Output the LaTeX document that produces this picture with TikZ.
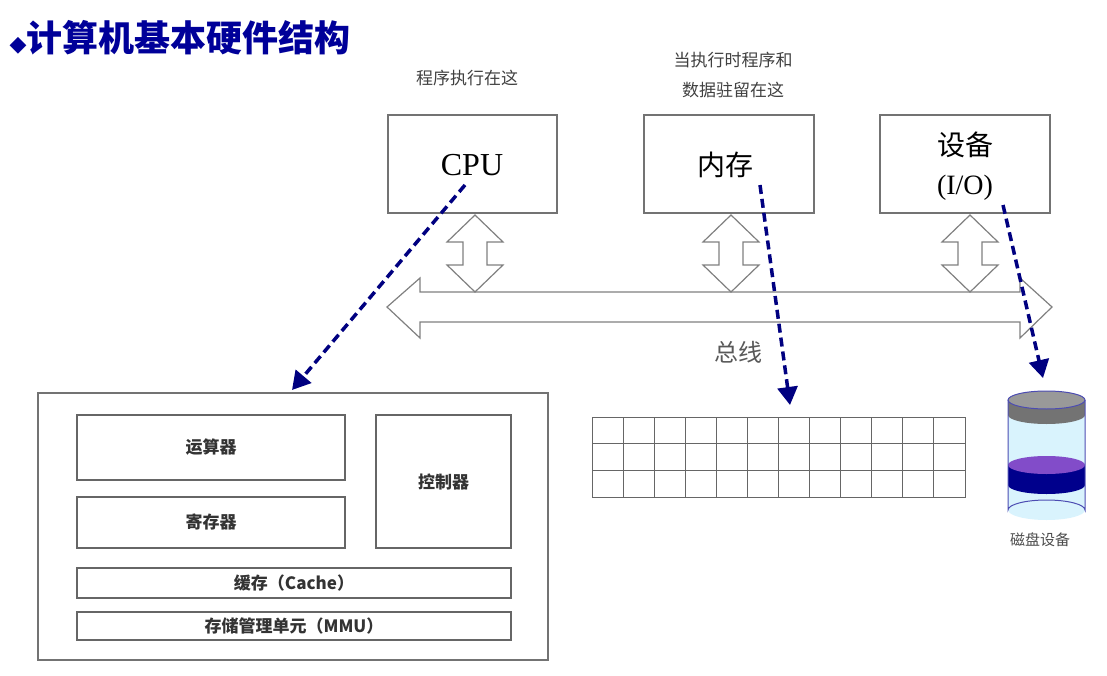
\documentclass[tikz,border=0pt]{standalone}
\usepackage{fontspec}
\usetikzlibrary{arrows.meta}
\setmainfont{Liberation Serif}
\newfontfamily\cjk{Noto Sans CJK SC}
\newfontfamily\dvsans{DejaVu Sans}
\begin{document}
\begin{tikzpicture}[x=1pt,y=-1pt,
  box/.style={draw=black!55,line width=1.3pt},
  ibox/.style={draw=black!60,line width=1.5pt},
  dar/.style={draw=blue!50!black,line width=3.5pt,dash pattern=on 9pt off 5pt,-{Triangle[length=18pt,width=20pt]}},
  hol/.style={draw=black!50,line width=1.2pt,fill=white,line join=miter}]
\useasboundingbox (0,0) rectangle (1107,676);
\node[anchor=west,text=blue!60!black,font=\cjk\bfseries\fontsize{36}{38}\selectfont] (title) at (6,38) {{\dvsans\fontsize{22}{22}\selectfont ◆}计算机基本硬件结构};
\node[font=\cjk\fontsize{17}{20}\selectfont,text=black!75] (l1) at (467,78) {程序执行在这};
\node[font=\cjk\fontsize{17}{30}\selectfont,text=black!75,align=center] (l2) at (733,75) {当执行时程序和\\数据驻留在这};
\draw[box] (388,115) rectangle (557,213);
\node[font=\fontsize{32}{34}\selectfont] (cpu) at (472,165) {CPU};
\draw[box] (644,115) rectangle (814,213);
\node[font=\cjk\fontsize{28}{30}\selectfont] (mem) at (725,165) {内存};
\draw[box] (880,115) rectangle (1050,213);
\node[font=\cjk\fontsize{28}{30}\selectfont] (dev) at (965,145) {设备};
\node[font=\fontsize{28}{30}\selectfont] (io) at (965,188) {(I/O)};
% bus
\draw[hol] (387,307) -- (420,278) -- (420,292) -- (1020,292) -- (1020,278) -- (1052,307) -- (1020,338) -- (1020,322) -- (420,322) -- (420,338) -- cycle;
\foreach \c in {475,731,970}{
\draw[hol] (\c,215) -- (\c+28,242) -- (\c+12,242) -- (\c+12,265) -- (\c+28,265) -- (\c,292) -- (\c-28,265) -- (\c-12,265) -- (\c-12,242) -- (\c-28,242) -- cycle;}
\node[font=\cjk\fontsize{24}{26}\selectfont,text=black!65] (bus) at (738,352) {总线};
% cpu detail
\draw[box] (38,393) rectangle (548,660);
\foreach \a/\b/\cc/\d/\t in {77/415/345/480/运算器,77/497/345/548/寄存器,376/415/511/548/控制器}{
\draw[ibox] (\a,\b) rectangle (\cc,\d);
\node[font=\cjk\bfseries\fontsize{17}{20}\selectfont,text=black!80] at ({(\a+\cc)/2},{(\b+\d)/2}) {\t};}
\draw[ibox] (77,568) rectangle (511,598);
\node[font=\cjk\bfseries\fontsize{17}{20}\selectfont,text=black!80] (cache) at (294,583) {缓存（Cache）};
\draw[ibox] (77,612) rectangle (511,640);
\node[font=\cjk\bfseries\fontsize{17}{20}\selectfont,text=black!80] (mmu) at (294,626) {存储管理单元（MMU）};
% memory grid
\foreach \i in {1,...,11} \draw[black!60,line width=1pt] ({592+\i*31.083},417) -- ({592+\i*31.083},497);
\foreach \j in {443.67,470.33} \draw[black!60,line width=1pt] (592,\j) -- (965,\j);
\draw[draw=black!60,line width=1pt] (592,417) rectangle (965,497);
% disk
\fill[cyan!15] (1008,400) rectangle (1085,510);
\fill[cyan!15] (1046.5,510) ellipse (38.5 and 10);
\fill[blue!55!black] (1008,465) rectangle (1085,485);
\fill[blue!55!black] (1046.5,485) ellipse (38.5 and 9);
\fill[blue!40!violet!70] (1046.5,465) ellipse (38.5 and 9);
\fill[black!55] (1008,400) rectangle (1085,415);
\fill[black!55] (1046.5,415) ellipse (38.5 and 9);
\fill[black!40] (1046.5,400) ellipse (38.5 and 9);
\draw[blue!40!gray,line width=1pt] (1008,400) -- (1008,510) arc (180:360:38.5 and 10) -- (1085,400);
\draw[blue!40!gray,line width=1pt] (1046.5,400) ellipse (38.5 and 9);
\node[font=\cjk\fontsize{15}{18}\selectfont,text=black!70] (disk) at (1040,540) {磁盘设备};
\coordinate (c1) at (465,185); \coordinate (c2) at (292,390);
\coordinate (m1) at (760,185); \coordinate (m2) at (790,405);
\coordinate (d1) at (1003,205); \coordinate (d2) at (1043,378);
\draw[dar] (c1) -- (c2);
\draw[dar] (m1) -- (m2);
\draw[dar] (d1) -- (d2);
\end{tikzpicture}
\end{document}
